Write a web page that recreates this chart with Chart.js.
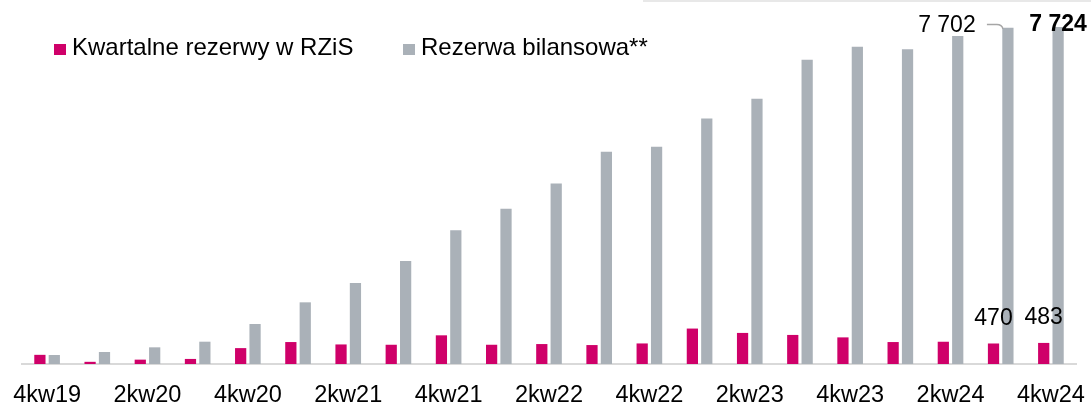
<!DOCTYPE html>
<html>
<head>
<meta charset="utf-8">
<script src="https://cdn.jsdelivr.net/npm/chart.js@4"></script>
<style>
  html, body { margin: 0; padding: 0; background: #fff; }
  #wrap { position: relative; width: 1091px; height: 403px; font-family: "Liberation Sans", Arial, sans-serif; }
  #topline { position: absolute; top: 0; left: 643px; right: 0; height: 2px; background: #e8e8e8; }
  .lg { position: absolute; top: 33px; font-size: 24px; color: #000; display: flex; align-items: center; white-space: nowrap; }
  .lg i { display: inline-block; width: 12px; height: 11px; margin-right: 6px; margin-top: 4px; }
</style>
</head>
<body>
<div id="wrap">
  <canvas id="chart" width="1091" height="403"></canvas>
  <div id="topline"></div>
  <div id="legend"></div>
</div>
<script>
const quarters = ['4kw19', '1kw20', '2kw20', '3kw20', '4kw20', '1kw21', '2kw21', '3kw21', '4kw21',
  '1kw22', '2kw22', '3kw22', '4kw22', '1kw23', '2kw23', '3kw23', '4kw23', '1kw24', '2kw24', '3kw24', '4kw24']
const quarterlyProvisions = [210, 50, 100, 116, 364, 503, 448, 441, 657, 441, 457, 434, 471, 812, 712, 666, 610, 503, 510, 470, 483]
const balanceReserve = [206, 275, 382, 511, 916, 1413, 1855, 2359, 3062, 3557, 4138, 4862, 4976, 5627, 6075, 6969, 7266, 7214, 7518, 7702, 7724]
const seriesNames = ['Kwartalne rezerwy w RZiS', 'Rezerwa bilansowa**']
const colors = ['#cf0069', '#aab1b8']

const font = '"Liberation Sans", Arial, sans-serif'

// legend drawn as html
const legendLeft = [54, 403]
document.getElementById('legend').innerHTML = seriesNames.map((n, i) =>
  `<div class="lg" style="left:${legendLeft[i]}px"><i style="background:${colors[i]}"></i>${n}</div>`).join('')

const fmt = v => String(v).replace(/\B(?=(\d{3})+(?!\d))/g, ' ')

const labelsPlugin = {
  id: 'labels',
  afterDatasetsDraw(chart) {
    const ctx = chart.ctx
    const pink = chart.getDatasetMeta(0).data
    const gray = chart.getDatasetMeta(1).data
    const last = quarters.length - 1
    ctx.save()
    ctx.fillStyle = '#000'
    ctx.textAlign = 'center'
    ctx.textBaseline = 'middle'
    ctx.font = '23px ' + font
    // last two quarterly values
    ;[last - 1, last].forEach(i => {
      const b = pink[i]
      ctx.fillText(fmt(quarterlyProvisions[i]), b.x, b.y - 25)
    })
    // balance labels
    const g1 = gray[last - 1], g2 = gray[last]
    ctx.fillText(fmt(balanceReserve[last - 1]), g1.x - 61, 26)
    ctx.font = 'bold 23px ' + font
    ctx.fillText(fmt(balanceReserve[last]), g2.x, 25)
    // leader line
    ctx.strokeStyle = '#a6a6a6'
    ctx.lineWidth = 1.5
    ctx.beginPath()
    ctx.moveTo(g1.x - 21, 24.5)
    ctx.lineTo(g1.x - 11, 24.5)
    ctx.quadraticCurveTo(g1.x - 6, 24.5, g1.x - 5, g1.y + 1)
    ctx.stroke()
    ctx.restore()
  }
}

new Chart('chart', {
  type: 'bar',
  data: {
    labels: quarters,
    datasets: [
      { label: seriesNames[0], data: quarterlyProvisions, backgroundColor: colors[0] },
      { label: seriesNames[1], data: balanceReserve, backgroundColor: colors[1] }
    ]
  },
  options: {
    responsive: false,
    animation: false,
    layout: { padding: { left: 22, right: 15, top: 0, bottom: 0 } },
    datasets: { bar: { categoryPercentage: 0.574, barPercentage: 0.78 } },
    plugins: {
      legend: { display: false },
      tooltip: { enabled: false }
    },
    scales: {
      x: {
        grid: { display: false },
        border: { display: true, color: '#d9d9d9', width: 2 },
        afterFit: s => {
          s.height = 39
          // let the end labels overflow like in the original
          s.paddingLeft = 0
          s.paddingRight = 0
        },
        ticks: {
          autoSkip: false,
          maxRotation: 0,
          padding: 9,
          color: '#000',
          font: { family: font, size: 23.5 },
          callback: function (v, i) { return i % 2 === 0 ? this.getLabelForValue(v) : '' }
        }
      },
      y: { display: false, min: 0, max: 8340 }
    }
  },
  plugins: [labelsPlugin]
})
</script>
</body>
</html>
